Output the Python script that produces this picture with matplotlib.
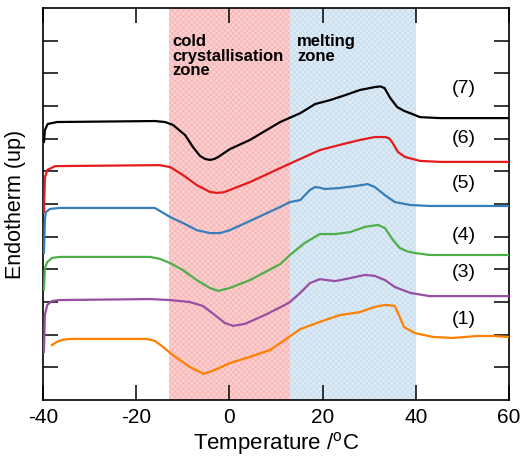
import matplotlib
matplotlib.use("Agg")

import matplotlib.pyplot as plt

plt.rcParams["font.family"] = ["Liberation Sans", "DejaVu Sans"]
plt.rcParams["mathtext.fontset"] = "custom"
plt.rcParams["mathtext.rm"] = "Liberation Sans"
plt.rcParams["axes.unicode_minus"] = False
plt.rcParams["hatch.linewidth"] = 0.5

# DSC traces, temperature (degC) vs endotherm (offset, arbitrary units)
t7 = [-39.8, -39.6, -39.0, -37.0, -16.0, -13.8, -12.1, -9.5, -7.8, -6.3, -5.2, -4.2, -3.2, -2.4, 0.1, 4.4,
      10.9, 15.2, 18.4, 21.6, 24.8, 28.0, 31.2, 32.4, 33.3, 34.5, 36.0, 37.5, 38.8, 40.9, 45.2, 60.0]
y7 = [7.90, 8.26, 8.45, 8.51, 8.54, 8.51, 8.42, 8.11, 7.74, 7.47, 7.38, 7.35, 7.38, 7.44, 7.68, 7.96,
      8.51, 8.78, 9.06, 9.18, 9.33, 9.49, 9.58, 9.60, 9.55, 9.25, 8.97, 8.85, 8.78, 8.66, 8.63, 8.63]

t6 = [-39.8, -39.6, -39.1, -37.4, -14.9, -12.7, -10.0, -7.0, -4.2, -2.7, -1.2, 0.1, 4.4, 10.9, 15.2,
      19.4, 23.7, 28.0, 31.2, 33.4, 34.3, 34.9, 36.2, 37.7, 40.9, 45.2, 60.0]
y6 = [5.75, 6.80, 7.04, 7.16, 7.19, 7.13, 6.89, 6.58, 6.37, 6.34, 6.36, 6.43, 6.67, 7.10, 7.38,
      7.65, 7.81, 7.96, 8.05, 8.05, 8.01, 7.90, 7.59, 7.44, 7.32, 7.29, 7.29]

t5 = [-39.8, -39.6, -39.4, -38.5, -36.4, -16.0, -12.7, -10.0, -7.0, -4.2, -2.0, 0.1, 4.4, 10.9,
      13.0, 15.2, 17.3, 18.4, 19.4, 20.5, 23.7, 27.0, 29.7, 31.2, 33.4, 35.5, 38.8, 43.0, 60.0]
y5 = [4.50, 5.51, 5.75, 5.85, 5.88, 5.88, 5.60, 5.42, 5.20, 5.11, 5.11, 5.20, 5.48, 5.91,
      6.06, 6.12, 6.43, 6.52, 6.50, 6.46, 6.49, 6.55, 6.61, 6.52, 6.27, 6.06, 5.97, 5.94, 5.94]

t4 = [-39.8, -39.6, -39.1, -38.1, -36.4, -17.0, -14.9, -12.7, -10.0, -7.0, -4.2, -2.4, 0.1, 4.4,
      10.9, 13.0, 16.2, 19.4, 22.7, 25.9, 29.1, 31.9, 33.4, 35.1, 36.6, 38.2, 39.8, 43.0, 60.0]
y4 = [3.37, 4.04, 4.22, 4.35, 4.38, 4.38, 4.32, 4.19, 3.98, 3.67, 3.43, 3.34, 3.43, 3.67,
      4.16, 4.44, 4.81, 5.08, 5.08, 5.14, 5.30, 5.36, 5.26, 4.90, 4.65, 4.55, 4.50, 4.44, 4.44]

t3 = [-39.8, -39.6, -39.1, -38.1, -36.4, -17.0, -12.7, -8.5, -5.7, -3.1, -1.0, 0.8, 3.3, 7.6,
      11.9, 13.0, 15.2, 17.3, 19.4, 22.7, 25.9, 29.1, 31.2, 33.4, 35.5, 38.8, 43.0, 60.0]
y3 = [1.47, 2.60, 2.91, 3.03, 3.06, 3.09, 3.06, 3.00, 2.88, 2.60, 2.36, 2.27, 2.33, 2.60,
      2.91, 3.00, 3.28, 3.58, 3.70, 3.64, 3.73, 3.83, 3.80, 3.67, 3.46, 3.28, 3.18, 3.18]

t1 = [-38.1, -37.0, -35.9, -34.2, -17.7, -16.0, -14.2, -12.7, -10.6, -8.5, -5.5, -3.1, 0.1, 4.4,
      8.7, 11.9, 15.2, 19.4, 23.7, 28.0, 31.2, 33.4, 35.5, 36.2, 37.5, 39.8, 43.7, 48.0,
      53.1, 56.6, 60.0]
y1 = [1.68, 1.78, 1.84, 1.87, 1.87, 1.81, 1.62, 1.44, 1.22, 1.01, 0.80, 0.92, 1.13, 1.32,
      1.53, 1.84, 2.17, 2.39, 2.60, 2.69, 2.85, 2.91, 2.88, 2.66, 2.23, 2.05, 1.93, 1.90,
      1.96, 1.96, 1.93]

series = [
    (t7, y7, "black", "(7)", 9.55),
    (t6, y6, "#e41a1c", "(6)", 8.02),
    (t5, y5, "#377eb8", "(5)", 6.64),
    (t4, y4, "#4daf4a", "(4)", 5.05),
    (t3, y3, "#984ea3", "(3)", 3.89),
    (t1, y1, "#ff7f00", "(1)", 2.45),
]

cold_zone = (-13, 13)
melt_zone = (13, 40)

fig = plt.figure(figsize=(5.22, 4.58), dpi=100)
ax = fig.add_axes([0.0824, 0.1266, 0.8926, 0.8559])

ax.axvspan(*cold_zone, facecolor="#fcd0d0", edgecolor="#f6b0b0", hatch="xxxxxx", linewidth=0, zorder=0)
ax.axvspan(*melt_zone, facecolor="#deebf5", edgecolor="#c2dbee", hatch="xxxxxx", linewidth=0, zorder=0)

for t, y, color, label, ly in series:
    ax.plot(t, y, color=color, lw=1.6, zorder=3)
    ax.text(50.3, ly, label, fontsize=14, ha="center", va="center")

ax.text(-12.2, 11.2, "cold\ncrystallisation\nzone", fontsize=12, fontweight="bold",
        va="top", ha="left", linespacing=0.95)
ax.text(14.5, 11.2, "melting\nzone", fontsize=12, fontweight="bold",
        va="top", ha="left", linespacing=0.95)

ax.set_xlim(-40, 60)
ax.set_ylim(0, 12)
ax.set_xticks([-40, -20, 0, 20, 40, 60])
ax.set_yticks(range(1, 12))
ax.set_yticklabels([])
ax.tick_params(direction="in", length=11, width=1.1, top=True, right=True, labelsize=15, pad=6)
for s in ax.spines.values():
    s.set_linewidth(1.2)

ax.set_xlabel("Temperature /$^{\\mathrm{o}}$C", fontsize=16, labelpad=2)
ax.set_ylabel("Endotherm (up)", fontsize=15.5, labelpad=6)

fig.savefig("out.png", dpi=100)
